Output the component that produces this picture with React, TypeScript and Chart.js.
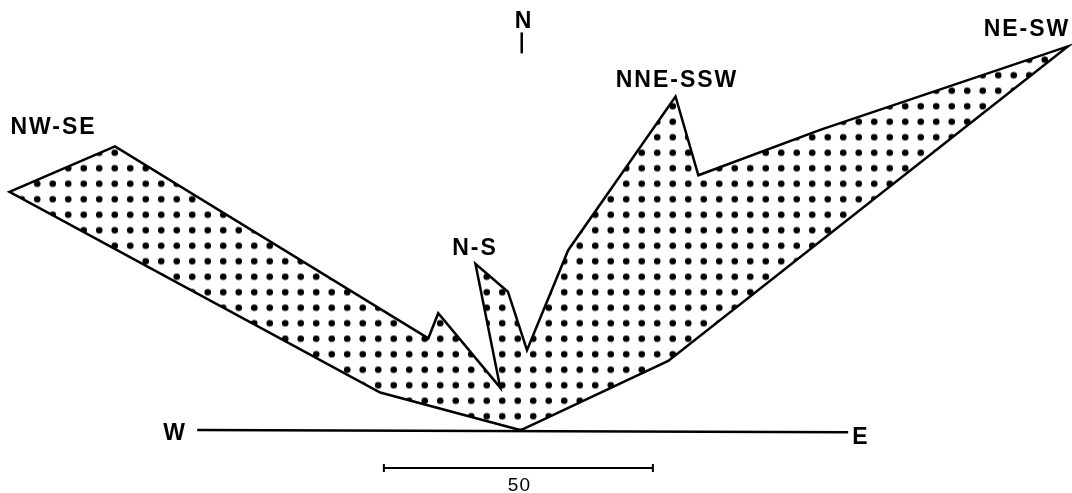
import React, { useEffect, useRef } from "react";
import { Chart, registerables } from "chart.js";

Chart.register(...registerables);

// Class midpoints (azimuth, degrees clockwise from N), W -> N -> E
const azimuths = [275, 285, 295, 305, 315, 325, 335, 345, 355, 5, 15, 25, 35, 45, 55, 65, 75, 85];
// Rose radius for each class (same units as scale bar)
const lengths = [0, 26.9, 104.7, 91.9, 24.1, 26.5, 8.7, 32.0, 25.8, 14.9, 34.6, 68.4, 57.8, 78.9, 124.3, 30.4, 0.5, 0];

const peakLabels = ["NW-SE", "N-S", "NNE-SSW", "NE-SW"];
const compassLabels = ["N", "W", "E"];
const scaleBarValue = 50;
const scaleBarLabel = "50";

// layout (data units)
const peakLabelAnchors = [
  [-86.9, 55.0],
  [-8.55, 32.5],
  [29.0, 63.75],
  [94.05, 73.2],
];
const compassAnchors = [
  [0.56, 74.7],
  [-64.3, -1.86],
  [63.2, -2.6],
];

const PX_PER_UNIT = 5.38;
const W = 1072;
const H = 493;
const OX = 520;
const OY = 430;

const polyPoints = azimuths.map((az, i) => {
  const r = (az * Math.PI) / 180;
  return { x: lengths[i] * Math.sin(r), y: lengths[i] * Math.cos(r) };
});

function makePattern(ctx: CanvasRenderingContext2D) {
  const c = document.createElement("canvas");
  c.width = 31;
  c.height = 31;
  const p = c.getContext("2d")!;
  p.fillStyle = "#000";
  const pts = [7.75, 23.25];
  for (const x of pts)
    for (const y of pts) {
      p.beginPath();
      p.arc(x, y, 3.3, 0, Math.PI * 2);
      p.fill();
    }
  const pat = ctx.createPattern(c, "repeat")!;
  pat.setTransform(new DOMMatrix([1, 0, 0, 1, 13.95, 5.45]));
  return pat;
}

const decoPlugin = {
  id: "deco",
  afterDatasetsDraw(chart: any) {
    const ctx = chart.ctx as CanvasRenderingContext2D;
    const xs = chart.scales.x;
    const ys = chart.scales.y;
    const px = (v: number) => xs.getPixelForValue(v);
    const py = (v: number) => ys.getPixelForValue(v);
    ctx.save();
    ctx.strokeStyle = "#000";
    ctx.fillStyle = "#000";
    ctx.lineCap = "butt";

    // W-E line
    ctx.lineWidth = 2.5;
    ctx.beginPath();
    ctx.moveTo(px(-60), py(0));
    ctx.lineTo(px(61), py(-0.4));
    ctx.stroke();

    // N tick
    ctx.lineWidth = 2.5;
    ctx.beginPath();
    ctx.moveTo(px(0.32), py(73.9));
    ctx.lineTo(px(0.32), py(70.0));
    ctx.stroke();

    // scale bar
    const sbY = -7.06;
    const sbC = -0.3;
    const x0 = px(sbC - scaleBarValue / 2);
    const x1 = px(sbC + scaleBarValue / 2);
    const yb = py(sbY);
    ctx.lineWidth = 2;
    ctx.beginPath();
    ctx.moveTo(x0, yb);
    ctx.lineTo(x1, yb);
    ctx.moveTo(x0, yb - 4);
    ctx.lineTo(x0, yb + 4);
    ctx.moveTo(x1, yb - 4);
    ctx.lineTo(x1, yb + 4);
    ctx.stroke();

    ctx.textAlign = "center";
    ctx.textBaseline = "alphabetic";
    (ctx as any).letterSpacing = "2px";
    ctx.font = "bold 23px 'Liberation Sans', Arial, sans-serif";
    peakLabels.forEach((t, i) => {
      ctx.fillText(t, px(peakLabelAnchors[i][0]) + 1, py(peakLabelAnchors[i][1]));
    });
    compassLabels.forEach((t, i) => {
      ctx.fillText(t, px(compassAnchors[i][0]) + 1, py(compassAnchors[i][1]));
    });
    ctx.font = "19px 'Liberation Sans', Arial, sans-serif";
    (ctx as any).letterSpacing = "1px";
    ctx.fillText(scaleBarLabel, px(sbC) + 1, py(-11.34));
    ctx.restore();
  },
};

export default function App() {
  const ref = useRef<HTMLCanvasElement>(null);
  useEffect(() => {
    const canvas = ref.current!;
    const ctx = canvas.getContext("2d")!;
    const pattern = makePattern(ctx);
    const chart = new Chart(canvas, {
      type: "scatter",
      data: {
        datasets: [
          {
            data: polyPoints,
            showLine: true,
            fill: "shape",
            backgroundColor: pattern as any,
            borderColor: "#000",
            borderWidth: 2.5,
            borderJoinStyle: "miter",
            pointRadius: 0,
            tension: 0,
            clip: false as any,
          } as any,
        ],
      },
      options: {
        animation: false,
        responsive: false,
        devicePixelRatio: 1,
        layout: { padding: 0 },
        events: [],
        scales: {
          x: {
            type: "linear",
            display: false,
            min: -OX / PX_PER_UNIT,
            max: (W - OX) / PX_PER_UNIT,
          },
          y: {
            type: "linear",
            display: false,
            min: -(H - OY) / PX_PER_UNIT,
            max: OY / PX_PER_UNIT,
          },
        },
        plugins: {
          legend: { display: false },
          tooltip: { enabled: false },
        },
      },
      plugins: [decoPlugin],
    });
    return () => chart.destroy();
  }, []);
  return (
    <div style={{ position: "fixed", left: 0, top: 0, width: W, height: H, background: "#fff" }}>
      <canvas ref={ref} width={W} height={H} style={{ display: "block" }} />
    </div>
  );
}
